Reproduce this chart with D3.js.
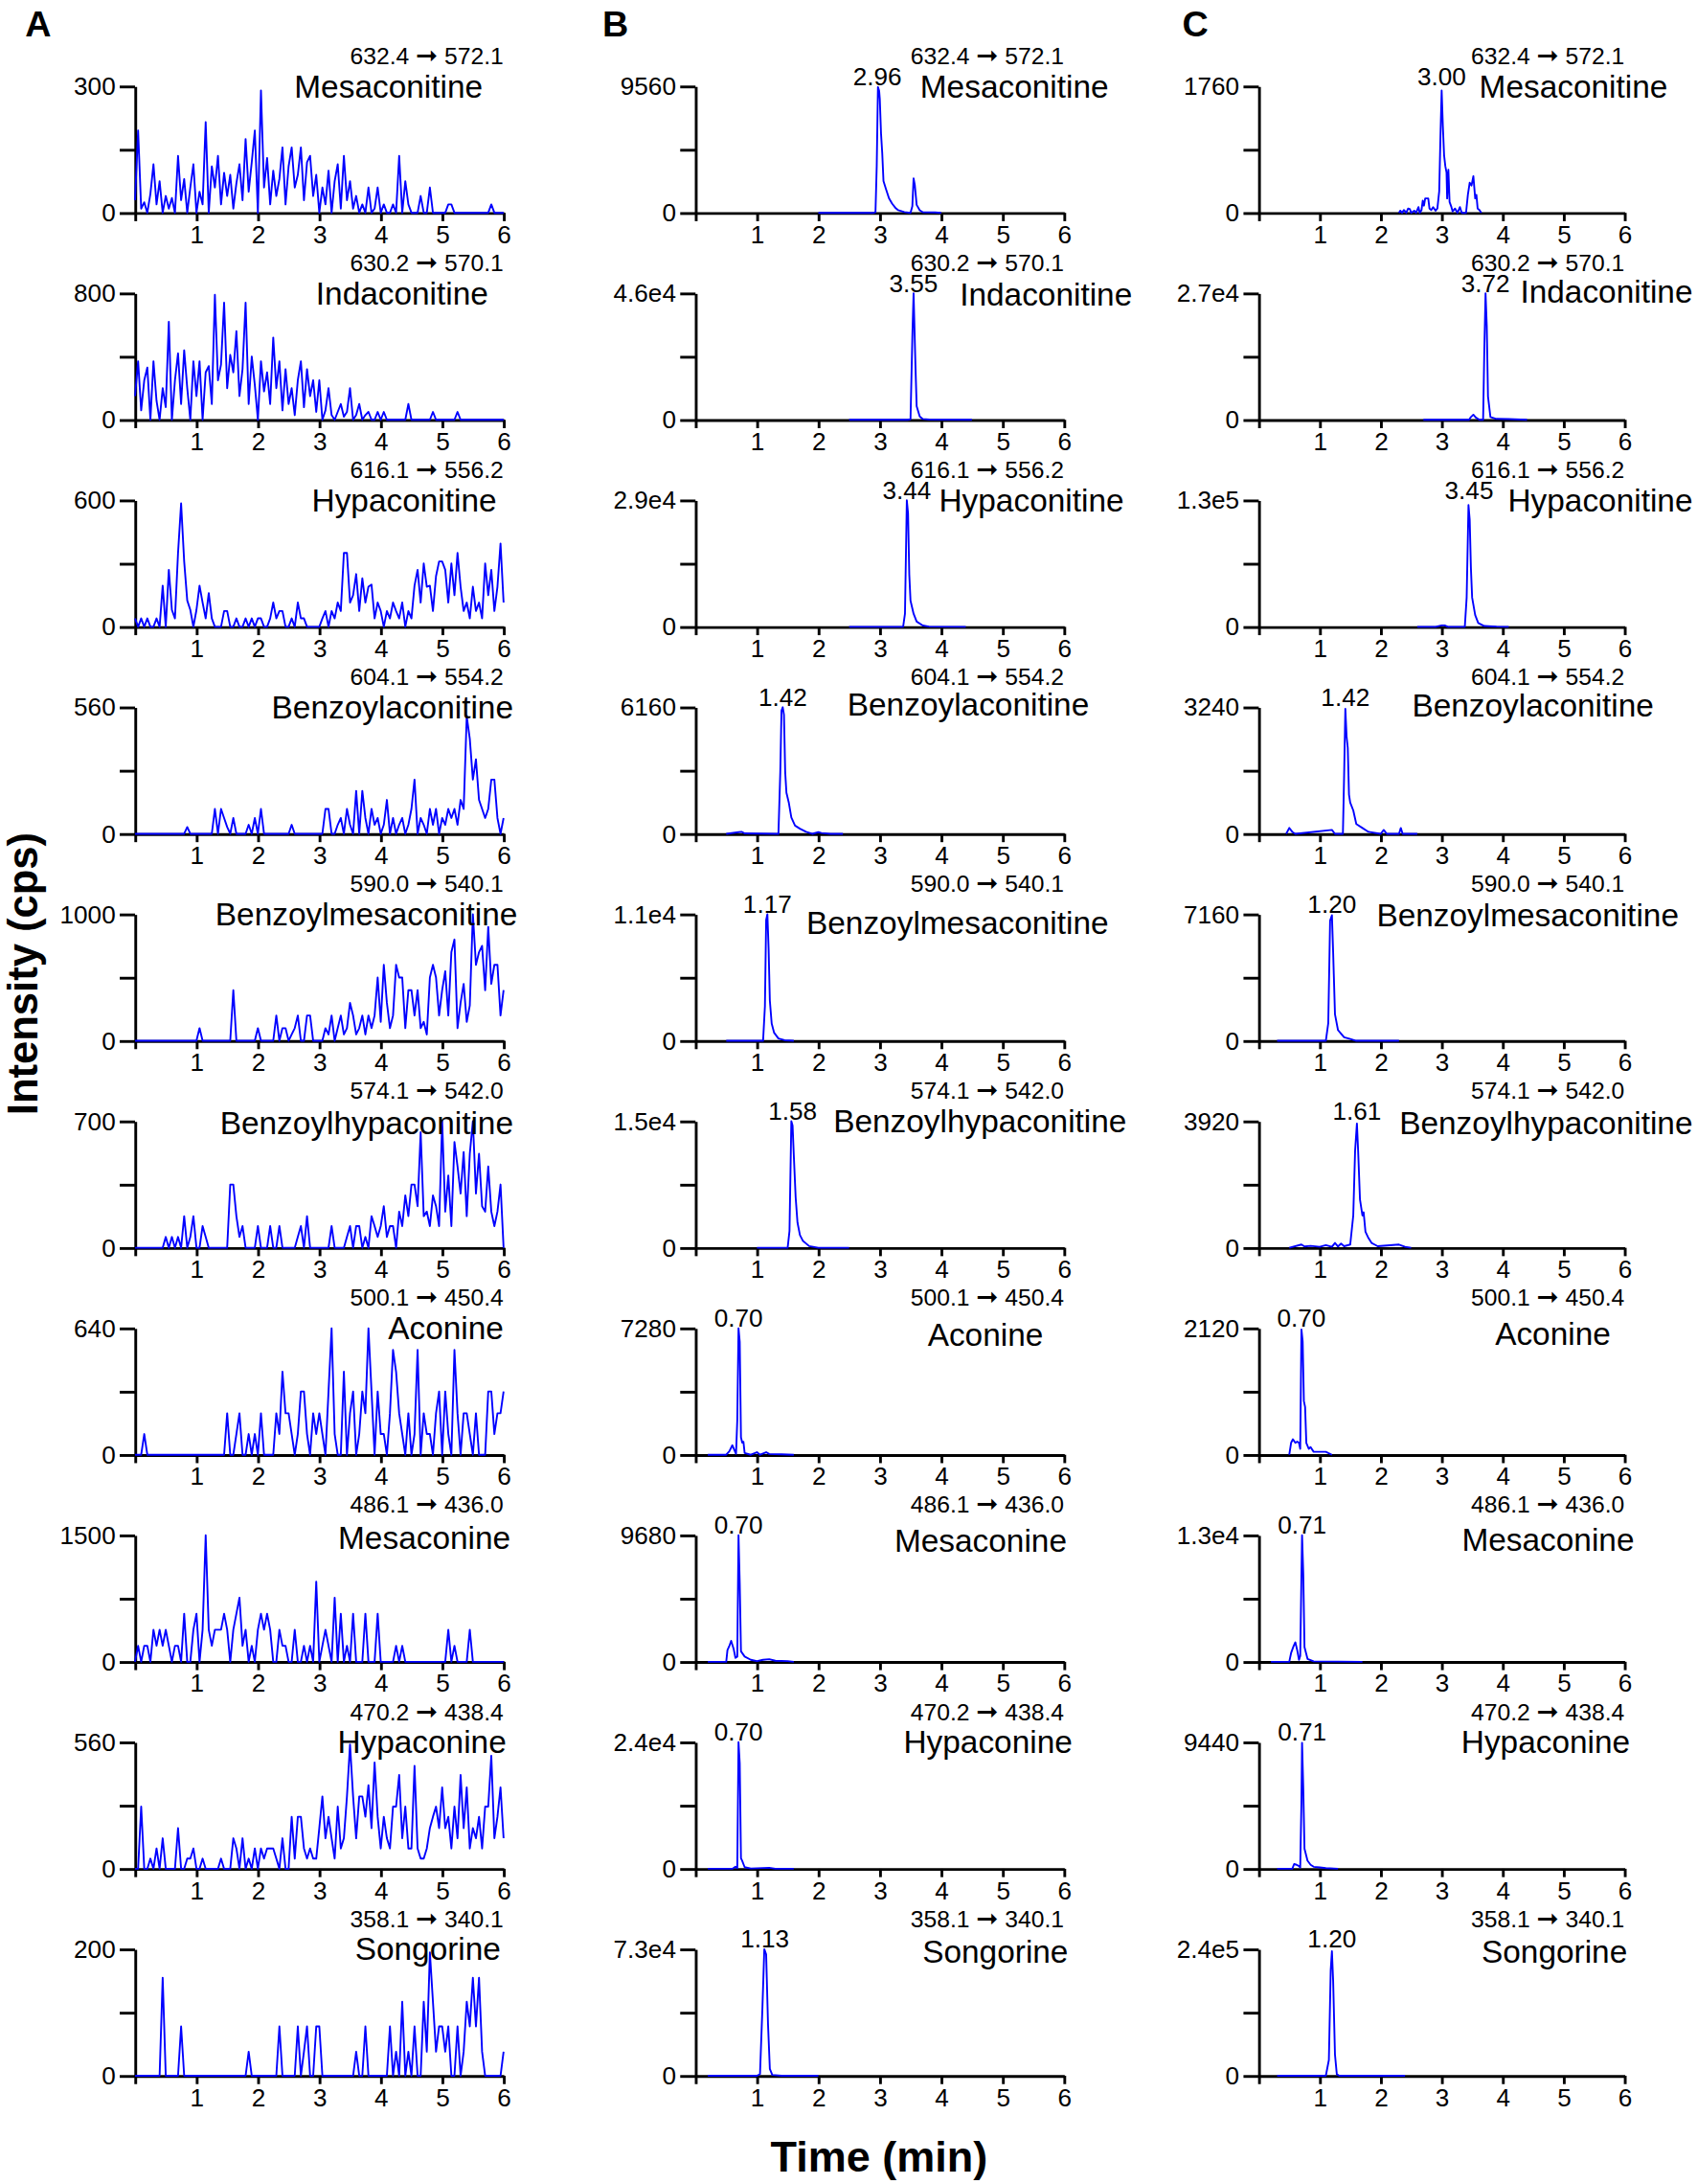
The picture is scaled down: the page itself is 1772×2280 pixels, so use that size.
<!DOCTYPE html>
<html>
<head>
<meta charset="utf-8">
<script src="https://d3js.org/d3.v7.min.js"></script>
<style>
  body { margin: 0; background: #fff; }
  text { font-family: "Liberation Sans", Arial, sans-serif; fill: #000; }
</style>
</head>
<body>
<script>
// ---- data ----
const compounds = ["Mesaconitine", "Indaconitine", "Hypaconitine", "Benzoylaconitine", "Benzoylmesaconitine",
                   "Benzoylhypaconitine", "Aconine", "Mesaconine", "Hypaconine", "Songorine"];
// precursor and product ions of each transition
const precursorIons = ["632.4", "630.2", "616.1", "604.1", "590.0", "574.1", "500.1", "486.1", "470.2", "358.1"];
const productIons = ["572.1", "570.1", "556.2", "554.2", "540.1", "542.0", "450.4", "436.0", "438.4", "340.1"];
const timeTicks = [0, 1, 2, 3, 4, 5, 6];

// y axis maxima and their tick labels, per column
const yMaxA = [300, 800, 600, 560, 1000, 700, 640, 1500, 560, 200];
const yLabelA = ["300", "800", "600", "560", "1000", "700", "640", "1500", "560", "200"];
const yMaxB = [9560, 46000, 29000, 6160, 11000, 15000, 7280, 9680, 24000, 73000];
const yLabelB = ["9560", "4.6e4", "2.9e4", "6160", "1.1e4", "1.5e4", "7280", "9680", "2.4e4", "7.3e4"];
const yMaxC = [1760, 27000, 130000, 3240, 7160, 3920, 2120, 13000, 9440, 240000];
const yLabelC = ["1760", "2.7e4", "1.3e5", "3240", "7160", "3920", "2120", "1.3e4", "9440", "2.4e5"];

// retention time labels
const peakB = ["2.96", "3.55", "3.44", "1.42", "1.17", "1.58", "0.70", "0.70", "0.70", "1.13"];
const peakC = ["3.00", "3.72", "3.45", "1.42", "1.20", "1.61", "0.70", "0.71", "0.71", "1.20"];

// column A: blank traces, sampled every 0.05 min from 0 to 6 (10 values per 0.5 min)
const sampleStep = 0.05;
const aMesaconitine = [
  30,195,10,25,0,45,115,20,75,0,   40,10,35,0,135,30,80,0,60,115,
  0,50,20,215,0,110,60,135,20,95,  40,90,10,70,115,30,175,50,120,195,
  0,290,60,130,20,100,40,80,155,20, 110,155,60,90,155,30,120,135,40,90,
  0,60,20,100,0,75,115,10,135,30,  75,10,40,0,20,0,60,0,10,60,
  0,20,0,0,20,0,135,0,75,20,       0,0,0,40,0,0,60,0,0,0,
  0,0,20,20,0,0,0,0,0,0,           0,0,0,0,0,0,20,0,0,0, 0];
const aIndaconitine = [
  150,370,60,250,330,0,370,120,0,200, 80,620,0,250,420,100,440,200,0,370,
  150,370,0,300,340,100,790,250,350,740, 200,410,300,560,150,320,740,100,400,220,
  0,370,180,300,100,520,200,370,60,320, 100,200,30,250,370,80,320,150,250,50,
  250,0,60,200,30,0,50,100,20,50,   200,0,30,100,0,30,50,0,0,50,
  0,50,0,0,0,0,0,0,0,100,          0,0,0,0,0,0,0,50,0,0,
  0,0,0,0,0,50,0,0,0,0,            0,0,0,0,0,0,0,0,0,0, 0];
const aHypaconitine = [
  40,0,40,0,40,0,0,40,0,195,       0,270,80,40,350,585,310,125,80,0,
  80,195,115,40,160,40,0,0,0,75,   75,0,0,40,0,0,40,0,40,0,
  40,40,0,0,40,115,40,75,75,0,     0,40,0,115,40,40,0,0,0,0,
  0,40,75,0,75,40,115,75,350,350,  115,150,250,75,230,115,190,200,40,115,
  75,0,75,40,115,75,40,115,0,75,   40,195,270,115,300,190,195,75,240,310,
  310,270,115,300,150,350,190,75,115,40, 190,75,115,40,300,150,270,75,190,395, 115];
const aBenzoylaconitine = [
  0,0,0,0,0,0,0,0,0,0,             0,0,0,0,0,0,0,30,0,0,
  0,0,0,0,0,0,110,0,110,70,        30,0,70,0,0,0,0,40,0,70,
  0,110,0,0,0,0,0,0,0,0,           0,40,0,0,0,0,0,0,0,0,
  0,0,110,110,0,0,40,70,0,110,     40,0,190,0,190,70,0,110,40,70,
  0,40,150,0,70,0,40,70,0,40,      110,240,0,70,40,0,110,40,110,0,
  70,40,110,70,110,40,150,110,520,420, 240,330,150,110,70,110,240,240,70,0, 70];
const aBenzoylmesaconitine = [
  0,0,0,0,0,0,0,0,0,0,             0,0,0,0,0,0,0,0,0,0,
  0,100,0,0,0,0,0,0,0,0,           0,0,400,0,0,0,0,0,0,0,
  100,0,0,0,0,0,200,0,100,100,     0,50,100,200,0,0,200,200,0,0,
  0,0,100,50,200,0,100,200,50,100, 300,200,50,100,200,50,200,100,200,500,
  150,600,300,100,200,600,500,500,100,400, 400,200,400,100,150,50,500,600,500,200,
  400,550,200,700,800,100,300,450,150,280, 1000,600,700,750,400,900,450,600,600,200, 400];
const aBenzoylhypaconitine = [
  0,0,0,0,0,0,0,0,0,0,             60,0,60,0,60,0,175,0,60,175,
  0,0,120,60,0,0,0,0,0,0,          0,350,350,175,60,120,0,0,0,0,
  120,0,0,0,120,0,0,120,0,0,       0,0,0,60,120,0,175,0,0,0,
  0,0,0,0,120,0,0,0,0,60,          120,0,120,120,0,60,0,175,120,60,
  120,230,60,120,120,0,200,120,290,175, 350,350,230,640,175,200,120,290,230,120,
  700,200,400,120,585,450,300,530,175,520, 700,300,520,230,200,450,200,120,200,350, 0];
const aAconine = [
  0,0,0,105,0,0,0,0,0,0,           0,0,0,0,0,0,0,0,0,0,
  0,0,0,0,0,0,0,0,0,0,             210,0,0,105,210,0,0,105,0,105,
  0,210,0,0,0,0,210,105,420,210,   210,105,0,105,320,320,105,0,210,105,
  210,105,0,320,640,105,0,0,420,0, 210,320,0,105,320,210,640,320,0,320,
  105,105,0,210,530,420,210,105,0,210, 0,105,530,0,210,105,105,0,210,320,
  0,320,105,0,530,210,0,210,210,105, 0,210,0,0,0,320,320,105,210,210, 320];
const aMesaconine = [
  0,190,0,190,190,0,380,190,380,190, 380,190,0,190,190,0,570,0,0,380,
  570,0,380,1500,380,190,380,380,380,570, 380,0,380,570,760,190,380,0,190,0,
  380,570,380,570,380,0,0,380,190,190, 0,0,380,0,0,190,0,190,0,950,
  0,190,380,190,0,760,0,570,0,190,  0,570,0,0,0,570,0,0,0,570,
  0,0,0,0,0,190,0,190,0,0,          0,0,0,0,0,0,0,0,0,0,
  0,0,380,0,190,0,0,0,0,380,        0,0,0,0,0,0,0,0,0,0, 0];
const aHypaconine = [
  0,0,275,0,0,45,0,90,0,135,       0,0,0,0,180,0,0,45,45,90,
  0,0,45,0,0,0,0,0,45,0,           0,0,135,90,0,135,0,45,0,90,
  0,90,45,90,90,90,45,0,135,0,     0,230,45,230,230,90,45,90,45,45,
  180,320,135,230,135,45,275,90,135,320, 550,320,135,320,320,230,370,180,470,230,
  90,230,135,90,275,275,415,135,275,90, 90,455,90,45,45,90,180,230,275,180,
  360,180,230,90,275,135,415,180,360,90, 180,135,230,90,275,275,500,135,230,360, 135];
const aSongorine = [
  0,0,0,0,0,0,0,0,0,155,           0,0,0,0,0,78,0,0,0,0,
  0,0,0,0,0,0,0,0,0,0,             0,0,0,0,0,0,0,38,0,0,
  0,0,0,0,0,0,0,78,0,0,            0,0,0,78,0,38,78,0,0,78,
  78,0,0,0,0,0,0,0,0,0,            0,0,38,0,0,78,0,0,0,0,
  0,0,0,78,0,38,0,117,0,38,        0,78,0,0,117,38,195,117,38,78,
  78,38,78,0,0,78,0,38,117,78,     155,78,155,38,0,0,0,0,0,0, 38];

// columns B and C: [time (min), intensity (cps)]
const bMesaconitine = [[2.0,0],[2.9,0],[2.93,50],[2.95,3500],[2.97,9500],[2.99,9200],[3.0,8600],[3.02,6000],
  [3.04,4500],[3.06,2400],[3.1,1800],[3.15,1100],[3.2,700],[3.25,400],[3.3,200],[3.4,60],[3.5,0],[3.53,500],
  [3.55,2600],[3.57,2100],[3.6,600],[3.65,200],[3.7,50],[3.9,30],[4.0,0]];
const bIndaconitine = [[2.5,0],[3.45,0],[3.5,200],[3.53,30000],[3.55,46000],[3.58,20000],[3.6,5000],[3.65,1200],
  [3.7,300],[3.8,100],[4.5,0]];
const bHypaconitine = [[2.5,0],[3.38,0],[3.41,3000],[3.44,29000],[3.46,26000],[3.48,12000],[3.5,6000],[3.55,3000],
  [3.6,1200],[3.7,300],[3.8,50],[4.4,0]];
const bBenzoylaconitine = [[0.5,0],[0.7,80],[0.75,100],[0.8,20],[1.35,0],[1.38,3000],[1.4,6000],[1.42,6160],
  [1.44,5800],[1.46,3000],[1.48,2000],[1.52,1500],[1.56,800],[1.62,400],[1.7,250],[1.8,100],[1.9,0],[2.0,80],
  [2.05,40],[2.2,0],[2.4,0]];
const bBenzoylmesaconitine = [[0.5,0],[1.1,0],[1.13,3000],[1.15,10500],[1.17,11000],[1.19,8000],[1.21,3500],
  [1.24,1500],[1.28,700],[1.35,200],[1.45,50],[1.6,0]];
const bBenzoylhypaconitine = [[1.0,0],[1.5,0],[1.53,2000],[1.56,15000],[1.58,14500],[1.6,11000],[1.63,6000],
  [1.66,3000],[1.7,1500],[1.75,800],[1.85,200],[2.0,0],[2.5,0]];
const bAconine = [[0.2,0],[0.5,0],[0.55,200],[0.6,550],[0.63,300],[0.66,50],[0.68,2000],[0.7,7280],[0.72,6500],
  [0.74,1000],[0.76,700],[0.78,750],[0.8,100],[0.9,0],[1.0,150],[1.05,0],[1.15,150],[1.2,50],[1.4,30],[1.6,0]];
const bMesaconine = [[0.2,0],[0.5,0],[0.52,900],[0.55,1200],[0.58,1600],[0.62,1000],[0.65,300],[0.68,400],
  [0.7,9680],[0.72,6000],[0.74,800],[0.8,400],[0.9,150],[1.0,50],[1.1,150],[1.2,200],[1.3,80],[1.5,50],[1.6,0]];
const bHypaconine = [[0.2,0],[0.6,0],[0.65,400],[0.68,100],[0.7,24000],[0.72,20000],[0.74,2000],[0.76,1500],
  [0.8,300],[0.9,50],[1.2,200],[1.3,0],[1.6,0]];
const bSongorine = [[0.2,0],[1.0,0],[1.05,1000],[1.09,40000],[1.12,73000],[1.15,70000],[1.18,30000],[1.21,4000],
  [1.25,500],[1.4,0],[2.0,0]];

const cMesaconitine = [[2.3,0],[2.32,30],[2.35,0],[2.38,40],[2.42,0],[2.45,60],[2.48,50],[2.5,0],[2.55,30],[2.58,0],
  [2.62,80],[2.64,0],[2.67,40],[2.69,170],[2.71,100],[2.73,200],[2.78,200],[2.8,60],[2.83,40],[2.86,80],[2.9,30],
  [2.93,60],[2.96,300],[2.98,1050],[3.0,1700],[3.02,1200],[3.04,800],[3.06,650],[3.08,560],[3.09,200],[3.11,600],
  [3.13,150],[3.16,80],[3.18,20],[3.22,60],[3.26,0],[3.3,80],[3.33,0],[3.4,0],[3.43,250],[3.46,420],[3.49,380],
  [3.52,510],[3.55,200],[3.57,250],[3.59,60],[3.62,40],[3.65,0]];
const cIndaconitine = [[2.7,0],[3.45,0],[3.48,600],[3.52,1100],[3.56,500],[3.62,0],[3.68,0],[3.7,15000],[3.72,27000],
  [3.74,20000],[3.76,5000],[3.8,600],[3.9,200],[4.1,150],[4.4,0]];
const cHypaconitine = [[2.6,0],[2.9,0],[3.0,1500],[3.05,1500],[3.1,0],[3.38,0],[3.41,30000],[3.44,125000],
  [3.46,110000],[3.48,60000],[3.5,30000],[3.55,12000],[3.6,4000],[3.7,800],[3.9,200],[4.1,0]];
const cBenzoylaconitine = [[0.45,0],[0.5,150],[0.55,50],[0.6,0],[1.2,100],[1.25,0],[1.38,0],[1.4,1500],[1.42,3200],
  [1.44,2500],[1.46,2200],[1.48,1000],[1.5,800],[1.55,600],[1.6,250],[1.7,150],[1.8,50],[2.0,0],[2.05,100],[2.1,0],
  [2.3,0],[2.33,150],[2.36,0],[2.6,0]];
const cBenzoylmesaconitine = [[0.3,0],[1.1,0],[1.14,1000],[1.17,6800],[1.2,7100],[1.22,5000],[1.25,1500],[1.3,600],
  [1.4,200],[1.5,100],[1.6,0],[2.3,0]];
const cBenzoylhypaconitine = [[0.5,0],[0.7,100],[0.75,40],[0.85,60],[1.0,30],[1.1,80],[1.2,30],[1.25,150],[1.3,40],
  [1.35,130],[1.4,50],[1.5,100],[1.55,1000],[1.58,3000],[1.61,3850],[1.63,3000],[1.66,1500],[1.7,1000],[1.72,1100],
  [1.75,500],[1.8,300],[1.85,150],[1.9,100],[1.95,50],[2.3,100],[2.4,30],[2.5,0]];
const cAconine = [[0.5,0],[0.53,200],[0.56,260],[0.6,200],[0.63,220],[0.66,200],[0.68,100],[0.7,2100],[0.72,1900],
  [0.74,900],[0.76,800],[0.78,200],[0.82,100],[0.85,130],[0.9,50],[1.1,50],[1.2,0]];
const cMesaconine = [[0.2,0],[0.5,0],[0.53,900],[0.57,1600],[0.6,2000],[0.63,1200],[0.66,200],[0.68,600],
  [0.71,13000],[0.73,9000],[0.75,1500],[0.8,300],[0.9,50],[1.7,0]];
const cHypaconine = [[0.3,0],[0.55,0],[0.58,350],[0.62,300],[0.66,200],[0.68,100],[0.7,5000],[0.71,9400],[0.73,6000],
  [0.75,1500],[0.8,600],[0.85,300],[0.9,150],[1.0,100],[1.1,50],[1.3,0]];
const cSongorine = [[0.3,0],[1.1,0],[1.15,30000],[1.18,200000],[1.2,236000],[1.22,180000],[1.25,40000],[1.28,3000],
  [1.32,0],[2.4,0]];

const tracesA = [aMesaconitine, aIndaconitine, aHypaconitine, aBenzoylaconitine, aBenzoylmesaconitine,
                 aBenzoylhypaconitine, aAconine, aMesaconine, aHypaconine, aSongorine];
const tracesB = [bMesaconitine, bIndaconitine, bHypaconitine, bBenzoylaconitine, bBenzoylmesaconitine,
                 bBenzoylhypaconitine, bAconine, bMesaconine, bHypaconine, bSongorine];
const tracesC = [cMesaconitine, cIndaconitine, cHypaconitine, cBenzoylaconitine, cBenzoylmesaconitine,
                 cBenzoylhypaconitine, cAconine, cMesaconine, cHypaconine, cSongorine];

// ---- layout (drawn in a 1220 x 1570 box, scaled to the page) ----
const W = 1220, H = 1570;
const colX = [97, 500, 905];
const colW = [265, 265, 263];
const rowTop0 = 62, rowStep = 148.8, plotH = 91;
// compound name: offset of right edge from the end of the x axis, and a small vertical nudge
const nameDx = [[-15,-11,-5,7,10,7,0,5,2,-2],
                [32,49,43,18,32,45,-15,2,6,3],
                [31,49,49,21,39,49,-10,7,4,2]];
const nameDy = [[0,0,0,0,0,1,0,2,0,0],
                [0,1,0,-2,6,0,5,4,0,2],
                [0,-1,0,-1,1,1,4,3,0,2]];

const svg = d3.select("body").append("svg")
    .attr("width", 1772)
    .attr("height", 2280)
    .attr("viewBox", `0 0 ${W} ${H}`);

svg.append("rect").attr("width", W).attr("height", H).attr("fill", "#fff");

const columns = [
  { letter: "A", letterX: 18, max: yMaxA, label: yLabelA, traces: tracesA, peaks: null },
  { letter: "B", letterX: 433, max: yMaxB, label: yLabelB, traces: tracesB, peaks: peakB },
  { letter: "C", letterX: 850, max: yMaxC, label: yLabelC, traces: tracesC, peaks: peakC }
];

columns.forEach((col, c) => {
  svg.append("text")
      .attr("x", col.letterX).attr("y", 26)
      .style("font-size", "26px").style("font-weight", "bold")
      .text(col.letter);

  compounds.forEach((name, r) => {
    const g = svg.append("g")
        .attr("transform", `translate(${colX[c]},${rowTop0 + r * rowStep})`);

    const x = d3.scaleLinear().domain([0, 6]).range([0, colW[c]]);
    const y = d3.scaleLinear().domain([0, col.max[r]]).range([plotH, 0]);

    // axes
    const gx = g.append("g")
        .attr("transform", `translate(0,${plotH})`)
        .call(d3.axisBottom(x).tickValues(timeTicks)
            .tickFormat(d => d === 0 ? "" : d)
            .tickSize(6).tickSizeOuter(0).tickPadding(3));
    const gy = g.append("g")
        .call(d3.axisLeft(y).tickValues([0, col.max[r] / 2, col.max[r]])
            .tickFormat((d, i) => i === 0 ? "0" : (i === 2 ? col.label[r] : ""))
            .tickSize(11).tickSizeOuter(0).tickPadding(3));
    [gx, gy].forEach(a => {
      a.select(".domain").attr("stroke", "#000").attr("stroke-width", 2);
      a.selectAll(".tick line").attr("stroke", "#000").attr("stroke-width", 2);
      a.selectAll(".tick text")
          .style("font-size", "18px")
          .style("font-family", '"Liberation Sans", Arial, sans-serif')
          .attr("fill", "#000");
    });

    // trace
    let pts;
    if (c === 0) {
      pts = col.traces[r].map((v, i) => [i * sampleStep, v]);
    } else {
      pts = col.traces[r];
    }
    g.append("path")
        .datum(pts)
        .attr("fill", "none")
        .attr("stroke", "#0000ff")
        .attr("stroke-width", 1.3)
        .attr("stroke-linejoin", "round")
        .attr("d", d3.line().x(d => x(d[0])).y(d => y(d[1])));

    // transition label: precursor -> product
    const tr = g.append("text")
        .attr("x", colW[c]).attr("y", -16)
        .attr("text-anchor", "end")
        .style("font-size", "17px");
    tr.append("tspan").text(precursorIons[r] + " ");
    tr.append("tspan")
        .style("font-family", '"DejaVu Sans", sans-serif')
        .style("font-size", "19px")
        .text("➞");
    tr.append("tspan").text(" " + productIons[r]);

    g.append("text")
        .attr("x", colW[c] + nameDx[c][r]).attr("y", 8 + nameDy[c][r])
        .attr("text-anchor", "end")
        .style("font-size", "23px")
        .text(name);
    if (col.peaks) {
      g.append("text")
          .attr("x", x(+col.peaks[r])).attr("y", -1)
          .attr("text-anchor", "middle")
          .style("font-size", "18px")
          .text(col.peaks[r]);
    }
  });
});

// axis titles
svg.append("text")
    .attr("transform", "translate(27,700) rotate(-90)")
    .attr("text-anchor", "middle")
    .style("font-size", "30px").style("font-weight", "bold")
    .text("Intensity (cps)");
svg.append("text")
    .attr("x", 632).attr("y", 1561)
    .attr("text-anchor", "middle")
    .style("font-size", "31px").style("font-weight", "bold")
    .text("Time (min)");
</script>
</body>
</html>
